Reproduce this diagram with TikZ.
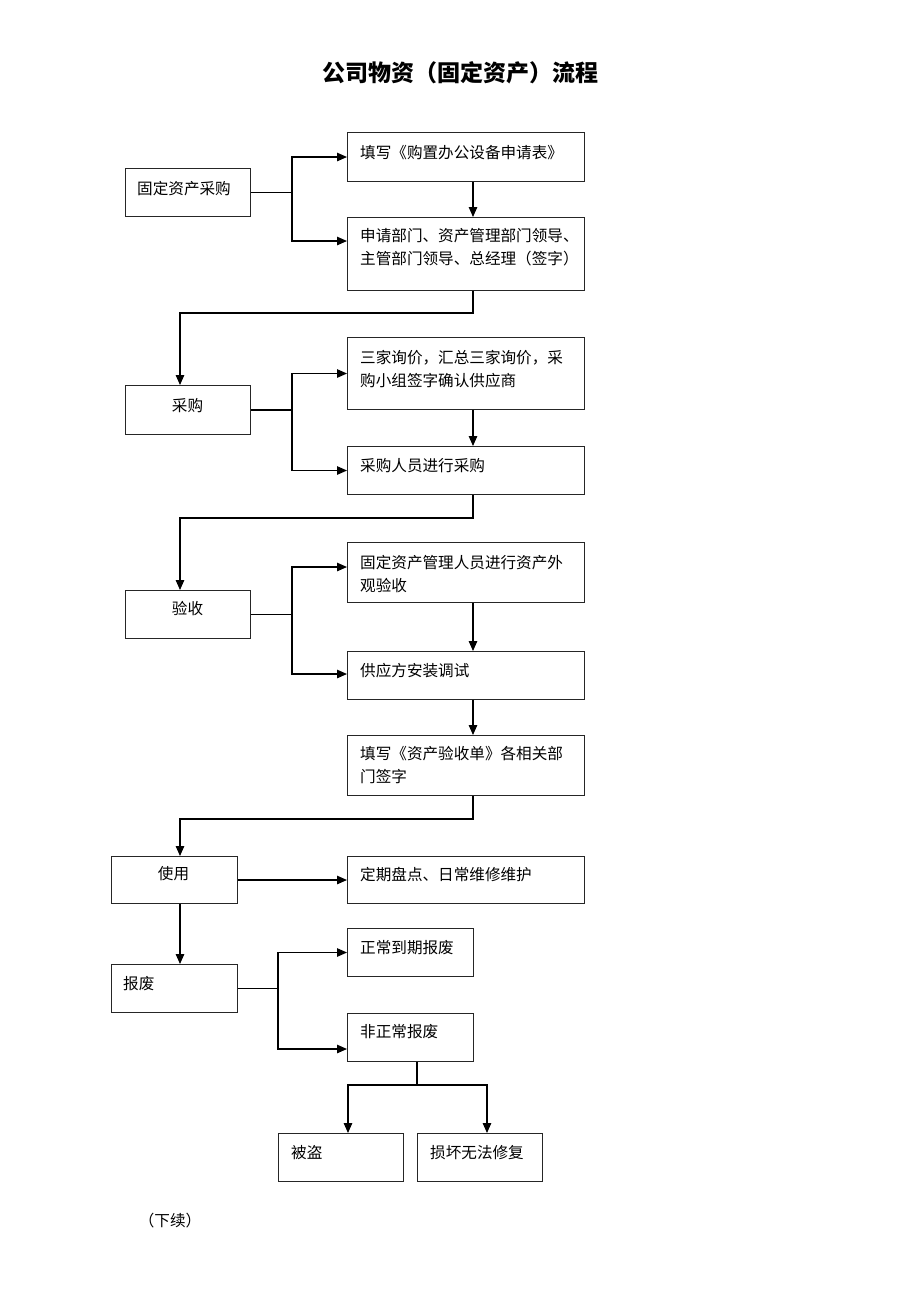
\documentclass[tikz,border=0pt]{standalone}
\usepackage{fontspec}
\newfontfamily\cjk{Noto Sans CJK SC}
\usetikzlibrary{arrows.meta}
\begin{document}
\begin{tikzpicture}[x=1pt,y=-1pt,
  box/.style={draw=black!85, line width=1pt, inner sep=0pt, anchor=north west},
  txt/.style={inner sep=0pt, anchor=base west, font=\cjk\fontsize{15.6}{23.5}\selectfont, text width=235pt, align=left},
  ctxt/.style={inner sep=0pt, anchor=base, font=\cjk\fontsize{15.6}{23.5}\selectfont},
  arr/.style={line width=1.2pt, -{Triangle[length=10pt,width=8.5pt]}},
  ln/.style={line width=1.2pt}]
\fill[white] (0,0) rectangle (920,1302);
\useasboundingbox (0,0) rectangle (920,1302);
% title
\node[inner sep=0pt, anchor=base, font=\cjk\bfseries\fontsize{23}{27}\selectfont] (title) at (460,81) {公司物资（固定资产）流程};
% boxes
\node[box, minimum width=125, minimum height=48] (b1) at (125,168) {};
\node[box, minimum width=237, minimum height=49] (r1) at (347,132) {};
\node[box, minimum width=237, minimum height=73] (r2) at (347,217) {};
\node[box, minimum width=125, minimum height=49] (b2) at (125,385) {};
\node[box, minimum width=237, minimum height=72] (r3) at (347,337) {};
\node[box, minimum width=237, minimum height=48] (r4) at (347,446) {};
\node[box, minimum width=125, minimum height=48] (b3) at (125,590) {};
\node[box, minimum width=237, minimum height=60] (r5) at (347,542) {};
\node[box, minimum width=237, minimum height=48] (r6) at (347,651) {};
\node[box, minimum width=237, minimum height=60] (r7) at (347,735) {};
\node[box, minimum width=126, minimum height=47] (b4) at (111,856) {};
\node[box, minimum width=237, minimum height=47] (r8) at (347,856) {};
\node[box, minimum width=126, minimum height=48] (b5) at (111,964) {};
\node[box, minimum width=126, minimum height=48] (r9) at (347,928) {};
\node[box, minimum width=126, minimum height=48] (r10) at (347,1013) {};
\node[box, minimum width=125, minimum height=48] (r11) at (278,1133) {};
\node[box, minimum width=125, minimum height=48] (r12) at (417,1133) {};
% texts
\node[txt] (t-b1) at (137,194) {固定资产采购};
\node[txt] (t-r1) at (360,158) {填写《购置办公设备申请表》};
\node[txt] (t-r2) at (360,241) {申请部门、资产管理部门领导、\\主管部门领导、总经理（签字）};
\node[ctxt] (t-b2) at (187.5,411) {采购};
\node[txt] (t-r3) at (360,363) {三家询价，汇总三家询价，采\\购小组签字确认供应商};
\node[txt] (t-r4) at (360,471) {采购人员进行采购};
\node[ctxt] (t-b3) at (187.5,614) {验收};
\node[txt] (t-r5) at (360,568) {固定资产管理人员进行资产外\\观验收};
\node[txt] (t-r6) at (360,676) {供应方安装调试};
\node[txt] (t-r7) at (360,759) {填写《资产验收单》各相关部\\门签字};
\node[ctxt] (t-b4) at (173.5,879) {使用};
\node[txt] (t-r8) at (360,880) {定期盘点、日常维修维护};
\node[txt] (t-b5) at (123,989) {报废};
\node[txt] (t-r9) at (360,953) {正常到期报废};
\node[txt] (t-r10) at (360,1037) {非正常报废};
\node[txt] (t-r11) at (291,1158) {被盗};
\node[txt] (t-r12) at (430,1158) {损坏无法修复};
\node[ctxt] (cont) at (170,1226) {（下续）};
% junction coordinates
\coordinate (j1) at (b1.east -| 292,0);
\coordinate (j2) at (b2.east -| 292,0);
\coordinate (j3) at (b3.east -| 292,0);
\coordinate (j5) at (b5.east -| 278,0);
\coordinate (k10) at (417,1085);
% connectors: stage 1
\draw[ln] (b1.east) -- (j1);
\draw[arr] (j1) |- (r1.west);
\draw[arr] (j1) |- (r2.west |- 0,241);
\draw[arr] (r1.south -| 473,0) -- (r2.north -| 473,0);
\draw[arr] (r2.south -| 473,0) |- (180,313) -- (b2.north -| 180,0);
% stage 2
\draw[ln] (b2.east) -- (j2);
\draw[arr] (j2) |- (r3.west);
\draw[arr] (j2) |- (r4.west);
\draw[arr] (r3.south -| 473,0) -- (r4.north -| 473,0);
\draw[arr] (r4.south -| 473,0) |- (180,518) -- (b3.north -| 180,0);
% stage 3
\draw[ln] (b3.east) -- (j3);
\draw[arr] (j3) |- (r5.west |- 0,567);
\draw[arr] (j3) |- (r6.west |- 0,674);
\draw[arr] (r5.south -| 473,0) -- (r6.north -| 473,0);
\draw[arr] (r6.south -| 473,0) -- (r7.north -| 473,0);
\draw[arr] (r7.south -| 473,0) |- (180,819) -- (b4.north -| 180,0);
% stage 4
\draw[arr] (b4.east |- 0,880) -- (r8.west |- 0,880);
\draw[arr] (b4.south -| 180,0) -- (b5.north -| 180,0);
\draw[ln] (b5.east) -- (j5);
\draw[arr] (j5) |- (r9.west);
\draw[arr] (j5) |- (r10.west |- 0,1049);
\draw[ln] (r10.south -| k10) -- (k10);
\draw[arr] (k10) -| (r11.north -| 348,0);
\draw[arr] (k10) -| (r12.north -| 487,0);
\end{tikzpicture}
\end{document}
